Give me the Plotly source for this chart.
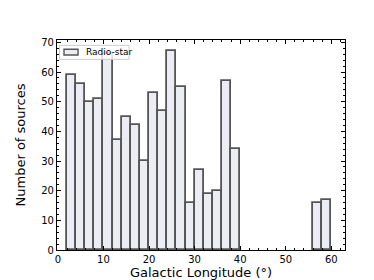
import plotly.graph_objects as go

bin_left = [2, 4, 6, 8, 10, 12, 14, 16, 18, 20, 22, 24, 26, 28, 30, 32, 34, 36, 38, 56, 58]
counts = [59, 56, 50, 51, 66, 37, 45, 42, 30, 53, 47, 67, 55, 16, 27, 19, 20, 57, 34, 16, 17]
bin_width = 2
series_name = "Radio-star"
x_ticks = [0, 10, 20, 30, 40, 50, 60]
y_ticks = [0, 10, 20, 30, 40, 50, 60, 70]

FILL = "#ececf4"
EDGE = "#555555"

centers = [b + bin_width / 2 for b in bin_left]

fig = go.Figure()
fig.add_trace(go.Bar(
    x=centers, y=counts, width=bin_width, name=series_name,
    marker=dict(color=FILL, line=dict(color=EDGE, width=1.8)),
    showlegend=False,
))

axis_common = dict(
    ticks="inside", ticklen=4, tickwidth=1, tickcolor="black",
    showline=True, linecolor="black", linewidth=1.2, mirror="allticks",
    showgrid=False, zeroline=False,
    tickfont=dict(family="DejaVu Sans", size=10, color="black"),
)

fig.update_xaxes(
    range=[-0.2, 63], tickvals=x_ticks,
    minor=dict(dtick=2, ticks="inside", ticklen=2, tickcolor="black", showgrid=False),
    title=dict(text="Galactic Longitude (°)", font=dict(family="DejaVu Sans", size=13, color="black"), standoff=2),
    **axis_common,
)
fig.update_yaxes(
    range=[0, 70.8], tickvals=y_ticks,
    minor=dict(dtick=2, ticks="inside", ticklen=2, tickcolor="black", showgrid=False),
    title=dict(text="Number of sources", font=dict(family="DejaVu Sans", size=13, color="black"), standoff=12),
    **axis_common,
)

# manual legend (matplotlib-like), positions in plot-area fractions
L, R, T, B = 49, 337, 32, 249
def fx(px):
    return (px - L) / (R - L)
def fy(py):
    return (B - py) / (B - T)

fig.add_shape(type="rect", xref="paper", yref="paper",
              x0=fx(51.5), x1=fx(121), y0=fy(52), y1=fy(37.5),
              fillcolor="rgba(255,255,255,0.8)", line=dict(color="#cccccc", width=1), layer="above")
fig.add_shape(type="rect", xref="paper", yref="paper",
              x0=fx(56), x1=fx(70), y0=fy(47.5), y1=fy(41.5),
              fillcolor=FILL, line=dict(color=EDGE, width=1.4), layer="above")
fig.add_annotation(xref="paper", yref="paper", x=fx(76), y=fy(44.8),
                   text=series_name, showarrow=False, xanchor="left", yanchor="middle",
                   font=dict(family="DejaVu Sans", size=9, color="black"))

fig.update_layout(
    width=374, height=280,
    margin=dict(l=49, r=37, t=32, b=31),
    plot_bgcolor="white", paper_bgcolor="white",
    bargap=0,
    showlegend=False,
)

fig.write_html("out.html")
